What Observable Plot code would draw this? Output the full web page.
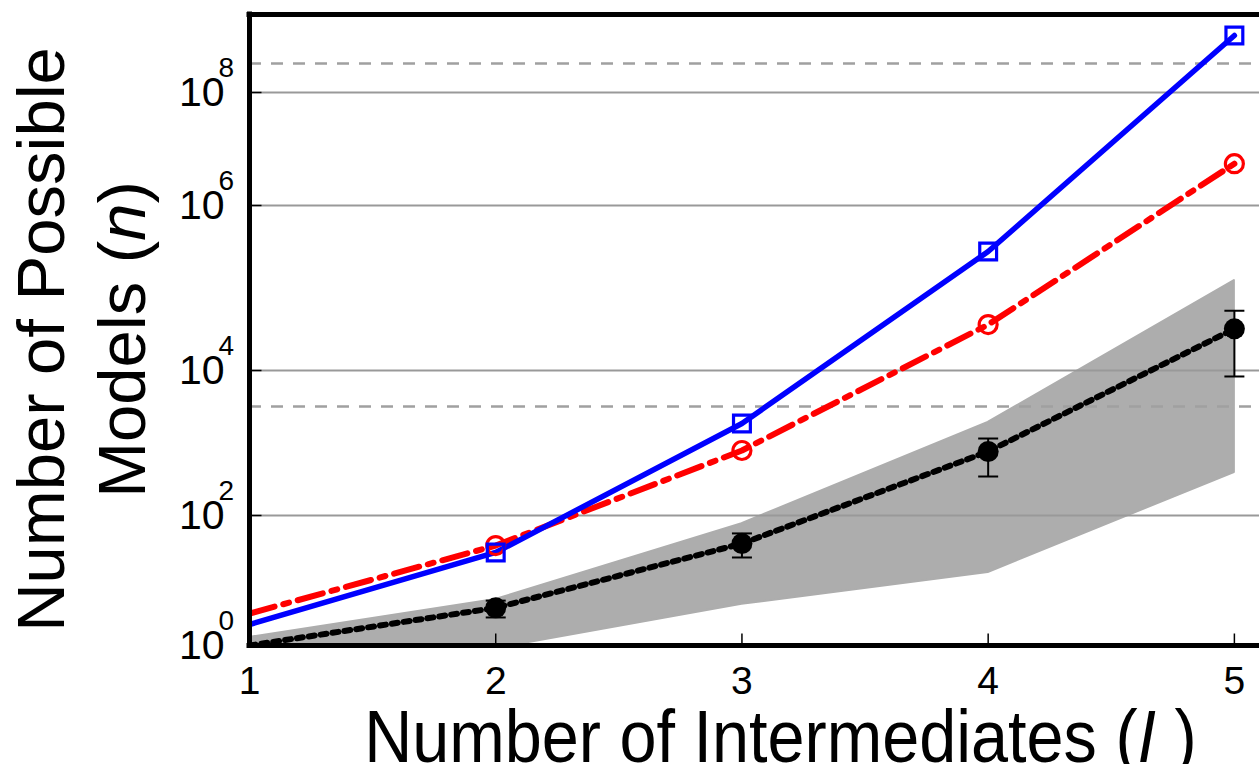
<!DOCTYPE html>
<html><head><meta charset="utf-8">
<script src="https://cdn.jsdelivr.net/npm/d3@7"></script>
<script src="https://cdn.jsdelivr.net/npm/@observablehq/plot@0.6"></script>
<style>body{margin:0;background:#fff;} svg{display:block}</style>
</head><body><div id="chart"></div>
<script>
// ---- data ----
const intermediates = [1, 2, 3, 4, 5];
const allModels = [2.1, 27, 1860, 2.77e5, 1.02e9];          // blue squares, solid
const reducedModels = [3.1, 34.5, 788, 3.6e4, 5.5e6];       // red circles, dash-dot
const sampledMean = [1, 3.8, 37, 764, 3.2e4];               // black dots, dotted
const sampledLow = [null, 2.7, 22.6, 345, 8270];
const sampledHigh = [null, 4.9, 53, 1153, 5.3e4];
const rangeLow = [0.3, 0.9, 4.3, 13.3, 392];                // grey band
const rangeHigh = [1.33, 5.1, 75, 1920, 1.23e5];
const gridSolid = [1e2, 1e4, 1e6, 1e8];
const gridDashed = [3190, 3.26e8];
const yTickExponents = [0, 2, 4, 6, 8];
const xTicks = [1, 2, 3, 4, 5];
const xTitle = "Number of Intermediates (I )";
const yTitle1 = "Number of Possible";
const yTitle2 = "Models (n)";

const rows = intermediates.map((x, i) => ({
  x, all: allModels[i], red: reducedModels[i], mean: sampledMean[i],
  lo: sampledLow[i], hi: sampledHigh[i], bandLo: rangeLow[i], bandHi: rangeHigh[i]
}));
const marked = rows.filter(d => d.x >= 2);
const yTop = 10 ** 9.38;

const capSymbol = {draw(ctx, size) { const r = Math.sqrt(size / Math.PI); ctx.moveTo(-r, 0); ctx.lineTo(r, 0); }};
const yTickSymbol = {draw(ctx, size) { const r = Math.sqrt(size / Math.PI); ctx.moveTo(0, 0); ctx.lineTo(r, 0); }};
const xTickSymbol = {draw(ctx, size) { const r = Math.sqrt(size / Math.PI); ctx.moveTo(0, 0); ctx.lineTo(0, -r); }};

const chart = Plot.plot({
  width: 1259,
  height: 764,
  marginLeft: 249, marginRight: 0, marginTop: 14, marginBottom: 119,
  style: {fontFamily: "'Liberation Sans', Arial, sans-serif", background: "#fff", color: "black"},
  x: {domain: [1, 5.102], range: [249, 1259], axis: null},
  y: {type: "log", domain: [1, 1e2, 1e4, 1e6, 1e8, yTop], range: [645, 515, 370, 205, 92, 14], axis: null},
  marks: [
    Plot.areaY(rows, {x: "x", y1: "bandLo", y2: "bandHi", fill: "#adadad", stroke: "#adadad", strokeWidth: 2, strokeLinejoin: "round", clip: true}),
    Plot.ruleY(gridSolid, {stroke: "#999", strokeWidth: 2}),
    Plot.ruleY(gridDashed, {stroke: "#a0a0a0", strokeWidth: 2.5, strokeDasharray: "12,10"}),
    Plot.dot(yTickExponents.slice(1).map(e => 10 ** e), {y: d => d, frameAnchor: "left", symbol: yTickSymbol, r: 12, stroke: "black", strokeWidth: 1.5, fill: "none"}),
    Plot.dot(xTicks.slice(1), {x: d => d, frameAnchor: "bottom", symbol: xTickSymbol, r: 12, stroke: "black", strokeWidth: 1.5, fill: "none"}),
    Plot.line(rows, {x: "x", y: "mean", stroke: "black", strokeWidth: 6, strokeDasharray: "6,6", clip: true}),
    Plot.line(rows, {x: "x", y: "red", stroke: "#ff0000", strokeWidth: 6, strokeDasharray: "26,9,6,9", clip: true}),
    Plot.line(rows, {x: "x", y: "all", stroke: "#0000ff", strokeWidth: 5.5, clip: true}),
    Plot.ruleX(marked, {x: "x", y1: "lo", y2: "hi", stroke: "black", strokeWidth: 2}),
    Plot.dot(marked, {x: "x", y: "lo", symbol: capSymbol, r: 10, stroke: "black", strokeWidth: 2, fill: "none"}),
    Plot.dot(marked, {x: "x", y: "hi", symbol: capSymbol, r: 10, stroke: "black", strokeWidth: 2, fill: "none"}),
    Plot.dot(marked, {x: "x", y: "mean", r: 10.5, fill: "black", stroke: "none"}),
    Plot.dot(marked, {x: "x", y: "red", r: 9, stroke: "#ff0000", strokeWidth: 3.2, fill: "none"}),
    Plot.dot(marked, {x: "x", y: "all", symbol: "square", r: 9.5, stroke: "#0000ff", strokeWidth: 3.2, fill: "none"}),
    Plot.ruleX([1], {stroke: "black", strokeWidth: 5, strokeLinecap: "square"}),
    Plot.ruleY([1, yTop], {stroke: "black", strokeWidth: 5, strokeLinecap: "square"}),
    // tick labels
    Plot.text(xTicks, {x: d => d, text: d => String(d), frameAnchor: "bottom", textAnchor: "middle", dy: 21, lineAnchor: "top", fontSize: 39, fill: "black"}),
    Plot.text(yTickExponents, {y: e => 10 ** e, text: () => "10", frameAnchor: "left", textAnchor: "end", dx: -25, lineAnchor: "middle", fontSize: 41, fill: "black"}),
    Plot.text(yTickExponents, {y: e => 10 ** e, text: e => String(e), frameAnchor: "left", textAnchor: "start", dx: -31, dy: -16, lineAnchor: "bottom", fontSize: 28, fill: "black"}),
    // axis titles
    Plot.text([xTitle], {text: d => d, frameAnchor: "bottom", textAnchor: "middle", dx: 26, dy: 116, lineAnchor: "bottom", fontSize: 74, fill: "black"}),
    Plot.text([yTitle1], {text: d => d, frameAnchor: "left", textAnchor: "middle", rotate: -90, dx: -186, dy: 9.5, lineAnchor: "bottom", fontSize: 67, fill: "black"}),
    Plot.text([yTitle2], {text: d => d, frameAnchor: "left", textAnchor: "middle", rotate: -90, dx: -105, dy: 9.5, lineAnchor: "bottom", fontSize: 67, fill: "black"})
  ]
});

function styleText(svg, full, parts, extraTransform) {
  svg.querySelectorAll("text").forEach(t => {
    if (t.textContent === full) {
      t.textContent = "";
      for (const [s, italic] of parts) {
        const ts = document.createElementNS("http://www.w3.org/2000/svg", "tspan");
        ts.textContent = s;
        if (italic) ts.setAttribute("font-style", "italic");
        t.appendChild(ts);
      }
      if (extraTransform) t.setAttribute("transform", (t.getAttribute("transform") || "") + " " + extraTransform);
    }
  });
}
styleText(chart, xTitle, [["Number of Intermediates (", false], ["I", true], [" )", false]], "scale(0.9,1)");
styleText(chart, yTitle2, [["Models (", false], ["n", true], [")", false]]);

document.getElementById("chart").appendChild(chart);
</script>
</body></html>
